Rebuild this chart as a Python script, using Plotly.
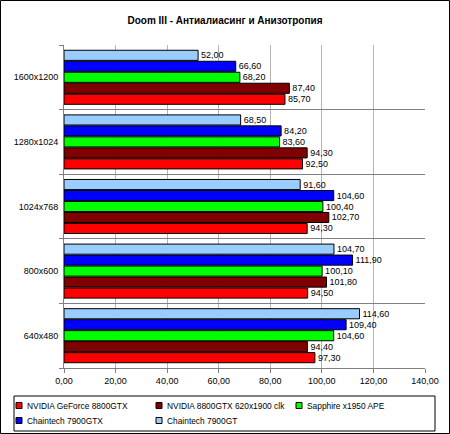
import plotly.graph_objects as go

# Data
resolutions = ["640x480", "800x600", "1024x768", "1280x1024", "1600x1200"]

geforce_8800gtx = [97.30, 94.50, 94.30, 92.50, 85.70]
geforce_8800gtx_oc = [94.40, 101.80, 102.70, 94.30, 87.40]
sapphire_x1950 = [104.60, 100.10, 100.40, 83.60, 68.20]
chaintech_7900gtx = [109.40, 111.90, 104.60, 84.20, 66.60]
chaintech_7900gt = [114.60, 104.70, 91.60, 68.50, 52.00]

series = [
    ("NVIDIA GeForce 8800GTX", geforce_8800gtx, "#ff0000"),
    ("NVIDIA 8800GTX 620x1900 clk", geforce_8800gtx_oc, "#800000"),
    ("Sapphire x1950 APE", sapphire_x1950, "#00ff00"),
    ("Chaintech 7900GTX", chaintech_7900gtx, "#0000ff"),
    ("Chaintech 7900GT", chaintech_7900gt, "#99ccff"),
]

FONT = "Liberation Sans, Arial, sans-serif"

fig = go.Figure()
for name, vals, color in series:
    fig.add_trace(go.Bar(
        y=resolutions, x=vals, name=name, orientation="h",
        marker=dict(color=color, line=dict(color="#000000", width=1)),
        texttemplate="%{x:.2f}", textposition="outside",
        textfont=dict(size=9, color="#000000", family=FONT),
        cliponaxis=False, showlegend=False,
    ))

W, H = 450, 434
ml, mr, mt, mb = 64, 25, 45, 66
pw, ph = W - ml - mr, H - mt - mb


def px_x(x):
    # pixel column -> paper x
    return (x - ml) / pw


def px_y(y):
    # pixel row (from top) -> paper y
    return (H - mb - y) / ph


fig.update_layout(
    width=W, height=H,
    margin=dict(l=ml, r=mr, t=mt, b=mb, autoexpand=False),
    paper_bgcolor="#ffffff", plot_bgcolor="#ffffff",
    separators=", ",
    barmode="group", bargap=0.15, bargroupgap=0.08,
    font=dict(family=FONT, size=9, color="#000000"),
    title=dict(text="<b>Doom III - Антиалиасинг и Анизотропия</b>",
               x=0.5, xanchor="center", y=1 - 20 / H, yanchor="middle",
               font=dict(size=10, family=FONT, color="#000000")),
    xaxis=dict(range=[0, 140], dtick=20, tick0=0, tickformat=".2f",
               showgrid=True, gridcolor="#b4b4b4", gridwidth=1,
               showline=True, linecolor="#808080", linewidth=1,
               ticks="outside", ticklen=4, tickcolor="#808080",
               zeroline=False, tickfont=dict(size=9)),
    yaxis=dict(categoryorder="array", categoryarray=resolutions,
               tickson="boundaries", ticks="outside", ticklen=4,
               tickcolor="#808080", showgrid=True, gridcolor="#808080",
               showline=True, linecolor="#808080", linewidth=1,
               tickfont=dict(size=9), ticklabelstandoff=3),
)

# outer frame around the whole picture
fig.add_shape(type="rect", xref="paper", yref="paper",
              x0=px_x(0.5), x1=px_x(W - 0.5), y0=px_y(H - 0.5), y1=px_y(0.5),
              line=dict(color="#000000", width=1), layer="below")

# legend box, drawn by hand so the entries sit like in the original
fig.add_shape(type="rect", xref="paper", yref="paper",
              x0=px_x(14), x1=px_x(435), y0=px_y(431), y1=px_y(396),
              line=dict(color="#000000", width=1), fillcolor="#ffffff")

legend_cols = [16, 156, 296]
legend_rows = [405.5, 420.5]
for i, (name, vals, color) in enumerate(series):
    lx = legend_cols[i % 3]
    ly = legend_rows[i // 3]
    fig.add_shape(type="rect", xref="paper", yref="paper",
                  x0=px_x(lx), x1=px_x(lx + 6), y0=px_y(ly + 3), y1=px_y(ly - 3),
                  line=dict(color="#000000", width=1), fillcolor=color)
    fig.add_annotation(text=name, xref="paper", yref="paper",
                       x=px_x(lx + 9), y=px_y(ly), xanchor="left", yanchor="middle",
                       showarrow=False, font=dict(size=8.4, family=FONT, color="#000000"))

fig.write_html("out.html", config={"displayModeBar": False},
               post_script="document.body.style.margin='0';")
